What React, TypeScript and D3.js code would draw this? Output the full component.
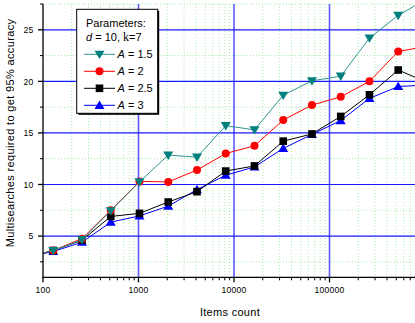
import React from 'react';
import * as d3 from 'd3';

// items count (powers of two), first and last points fall outside the visible frame
const items = [64, 128, 256, 512, 1024, 2048, 4096, 8192, 16384, 32768, 65536, 131072, 262144, 524288, 1048576];

const a15 = [2.9, 3.6, 4.65, 7.45, 10.25, 12.85, 12.65, 15.7, 15.3, 18.65, 20.05, 20.5, 24.2, 26.4, 28.0];
const a2 = [2.9, 3.6, 4.75, 7.5, 10.3, 10.25, 11.4, 13.0, 13.75, 16.25, 17.7, 18.5, 20.0, 22.9, 23.4];
const a25 = [2.9, 3.6, 4.6, 6.9, 7.2, 8.3, 9.3, 11.3, 11.8, 14.2, 14.9, 16.6, 18.7, 21.1, 19.9];
const a3 = [2.9, 3.5, 4.4, 6.35, 6.95, 7.9, 9.5, 10.9, 11.7, 13.5, 14.85, 16.2, 18.35, 19.5, 19.65];

const seriesNames = ['1.5', '2', '2.5', '3'];
const xTickLabels = ['100', '1000', '10000', '100000'];
const yTickLabels = [5, 10, 15, 20, 25];

const width = 415;
const height = 323;
const marginLeft = 43;
const marginTop = 4;
const plotBottom = 277.3;
const font = '"Liberation Sans", Arial, sans-serif';

const series = [
  { name: seriesNames[3], values: a3, line: '#0000ff', fill: '#0000ff', shape: 'up' },
  { name: seriesNames[2], values: a25, line: '#000000', fill: '#000000', shape: 'square' },
  { name: seriesNames[1], values: a2, line: '#ff0000', fill: '#ff0000', shape: 'circle' },
  { name: seriesNames[0], values: a15, line: '#2f9595', fill: '#007f7f', shape: 'down' },
];

function Marker({ shape, x, y, color }: { shape: string; x: number; y: number; color: string }) {
  if (shape === 'circle') return <circle cx={x} cy={y} r={4} fill={color} />;
  if (shape === 'square') return <rect x={x - 3.8} y={y - 3.8} width={7.6} height={7.6} fill={color} />;
  if (shape === 'up') return <path d={`M${x},${y - 4.8}L${x + 5},${y + 3.6}L${x - 5},${y + 3.6}Z`} fill={color} />;
  return <path d={`M${x},${y + 4.8}L${x + 5},${y - 3.6}L${x - 5},${y - 3.6}Z`} fill={color} />;
}

export default function App() {
  const x = d3.scaleLog().domain([100, 1e6]).range([marginLeft, marginLeft + 4 * 95.5]);
  const y = d3.scaleLinear().domain([1, 27.5]).range([plotBottom, marginTop]);

  const majorX = xTickLabels.map(Number);
  const minorX: number[] = [];
  for (let p = 100; p < 1e6; p *= 10) for (let k = 2; k <= 9; k++) minorX.push(p * k);
  const minorY = d3.range(2.5, 28, 5);

  const line = d3.line<number>().x((d, i) => x(items[i])).y((d) => y(d));

  const legendX = 76.7;
  const legendY = 9.3;
  const legendRows = [series[3], series[2], series[1], series[0]];

  return (
    <svg width={width} height={height} style={{ position: 'absolute', left: 0, top: 0, background: '#fff' }} fontFamily={font}>
      <defs>
        <clipPath id="plot">
          <rect x={marginLeft} y={marginTop} width={width - marginLeft} height={plotBottom - marginTop} />
        </clipPath>
      </defs>
      <rect width={width} height={height} fill="#fff" />
      {/* minor grid */}
      <g stroke="#a6eaa6" strokeWidth={1} strokeDasharray="1,2">
        {minorX.map((v) => (
          <line key={'mx' + v} x1={x(v)} x2={x(v)} y1={marginTop} y2={plotBottom} />
        ))}
        {minorY.map((v) => (
          <line key={'my' + v} x1={marginLeft} x2={width} y1={y(v)} y2={y(v)} />
        ))}
      </g>
      {/* major grid */}
      <g>
        {majorX.slice(1).map((v) => (
          <line key={'gx' + v} x1={x(v)} x2={x(v)} y1={marginTop} y2={plotBottom} stroke="#5a5aff" strokeWidth={1.6} />
        ))}
        {yTickLabels.map((v) => (
          <line key={'gy' + v} x1={marginLeft} x2={width} y1={y(v)} y2={y(v)} stroke="#1a1aff" strokeWidth={1.2} />
        ))}
      </g>
      {/* series */}
      <g clipPath="url(#plot)">
        {series.map((s) => (
          <g key={s.name}>
            <path d={line(s.values) || ''} fill="none" stroke={s.line} strokeWidth={1} />
            {s.values.map((v, i) => (
              <Marker key={i} shape={s.shape} x={x(items[i])} y={y(v)} color={s.fill} />
            ))}
          </g>
        ))}
      </g>
      {/* axes */}
      <g stroke="#000" strokeWidth={1.3}>
        <line x1={marginLeft} x2={marginLeft} y1={marginTop} y2={plotBottom + 0.6} />
        <line x1={marginLeft - 0.6} x2={width} y1={plotBottom} y2={plotBottom} />
        {majorX.map((v) => (
          <line key={'tx' + v} x1={x(v)} x2={x(v)} y1={plotBottom} y2={plotBottom + 5} />
        ))}
        {minorX.map((v) => (
          <line key={'tmx' + v} x1={x(v)} x2={x(v)} y1={plotBottom} y2={plotBottom + 3} strokeWidth={1} />
        ))}
        {yTickLabels.map((v) => (
          <line key={'ty' + v} x1={marginLeft - 5} x2={marginLeft} y1={y(v)} y2={y(v)} />
        ))}
        {minorY.map((v) => (
          <line key={'tmy' + v} x1={marginLeft - 3} x2={marginLeft} y1={y(v)} y2={y(v)} strokeWidth={1} />
        ))}
      </g>
      <g fontSize={8.6} fill="#000" letterSpacing={0.2}>
        {majorX.map((v, i) => (
          <text key={'lx' + v} x={x(v)} y={293.2} textAnchor="middle">
            {xTickLabels[i]}
          </text>
        ))}
        {yTickLabels.map((v) => (
          <text key={'ly' + v} x={33.5} y={y(v) + 3.2} textAnchor="end">
            {v}
          </text>
        ))}
      </g>
      <text x={230} y={316} textAnchor="middle" fontSize={11} letterSpacing={0.3}>
        Items count
      </text>
      <text transform="translate(14,133) rotate(-90)" textAnchor="middle" fontSize={11} letterSpacing={0.35}>
        Multisearches required to get 95% accuracy
      </text>
      {/* legend */}
      <g>
        <rect x={legendX + 1.5} y={legendY + 1.5} width={81} height={104} fill="#000" />
        <rect x={legendX} y={legendY} width={81} height={104} fill="#fff" stroke="#000" strokeWidth={1} />
        <text x={86} y={26.5} fontSize={11}>
          Parameters:
        </text>
        <text x={86} y={41} fontSize={11}>
          <tspan fontStyle="italic">d</tspan>
          <tspan> = 10, </tspan>
          <tspan fontFamily='"Liberation Serif", serif' fontSize={12}>k</tspan>
          <tspan>=7</tspan>
        </text>
        {legendRows.map((s, i) => {
          const ly = 54.3 + i * 17;
          return (
            <g key={'lg' + s.name}>
              <line x1={84} x2={115} y1={ly} y2={ly} stroke={s.line} strokeWidth={1} />
              <Marker shape={s.shape} x={99.5} y={ly} color={s.fill} />
              <text x={117.5} y={ly + 4} fontSize={11}>
                <tspan fontStyle="italic">A</tspan>
                <tspan> = {s.name}</tspan>
              </text>
            </g>
          );
        })}
      </g>
    </svg>
  );
}
